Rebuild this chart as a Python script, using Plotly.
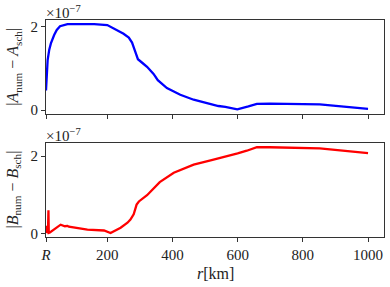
import plotly.graph_objects as go
from plotly.subplots import make_subplots

R_KM = 12

# |A_num - A_sch| in units of 1e-7
r_A = [12, 14, 17, 22, 27, 37, 45, 55, 65, 78, 128, 160, 200, 230, 250, 266, 276, 285, 294,
       308, 322, 342, 355, 383, 424, 465, 506, 541, 562, 599, 633, 659, 699, 760, 852, 893, 1000]
A_diff = [0.47, 0.85, 1.2, 1.45, 1.6, 1.8, 1.92, 2.01, 2.04, 2.06, 2.06, 2.06, 2.04, 1.92, 1.83,
          1.74, 1.62, 1.42, 1.22, 1.13, 1.04, 0.87, 0.72, 0.53, 0.37, 0.25, 0.16, 0.10, 0.08,
          0.02, 0.09, 0.15, 0.155, 0.15, 0.14, 0.11, 0.03]

# |B_num - B_sch| in units of 1e-7
r_B = [12, 13, 15, 18, 19.5, 20.5, 24, 30, 45, 57, 70, 78, 82, 139, 190, 210, 241, 262, 271,
       281, 290, 297, 322, 348, 361, 404, 465, 520, 557, 600, 628, 659, 699, 852, 1000]
B_diff = [0.02, 0.2, 0.02, 0.05, 0.6, 0.02, 0.03, 0.07, 0.17, 0.23, 0.19, 0.2, 0.18, 0.10, 0.08,
          0.015, 0.15, 0.28, 0.36, 0.5, 0.75, 0.83, 0.99, 1.2, 1.33, 1.57, 1.78, 1.9, 1.97, 2.07,
          2.14, 2.23, 2.23, 2.2, 2.08]

x_tickvals = [R_KM, 200, 400, 600, 800, 1000]
x_ticktext = ["<i>R</i>", "200", "400", "600", "800", "1000"]
y_tickvals = [0, 2]

FONT = "Liberation Serif, DejaVu Serif, serif"

fig = make_subplots(rows=2, cols=1, shared_xaxes=True, vertical_spacing=0.132)
fig.add_trace(go.Scatter(x=r_A, y=A_diff, mode="lines",
                         line=dict(color="#0000ff", width=2.3)), row=1, col=1)
fig.add_trace(go.Scatter(x=r_B, y=B_diff, mode="lines",
                         line=dict(color="#ff0000", width=2.3)), row=2, col=1)

axis_common = dict(showline=True, linecolor="#333333", linewidth=1, mirror=True,
                   ticks="outside", ticklen=4, tickcolor="#333333", showgrid=False,
                   zeroline=False, tickfont=dict(family=FONT, size=15, color="#222"))
fig.update_xaxes(range=[R_KM, 1049], tickvals=x_tickvals, ticktext=x_ticktext, **axis_common)
fig.update_xaxes(showticklabels=False, row=1, col=1)
fig.update_yaxes(tickvals=y_tickvals, **axis_common)
fig.update_yaxes(range=[-0.096, 2.16], row=1, col=1)
fig.update_yaxes(range=[-0.088, 2.344], row=2, col=1)

fig.update_layout(
    width=390, height=287,
    margin=dict(l=45.5, r=5.7, t=20, b=50.3),
    paper_bgcolor="white", plot_bgcolor="white",
    showlegend=False,
    font=dict(family=FONT, size=15, color="#222"),
)

ann_font = dict(family=FONT, size=15, color="#222")
# offset text
fig.add_annotation(text="×10<sup>−7</sup>", xref="x domain", yref="y domain", x=0, y=1,
                   xanchor="left", yanchor="bottom", showarrow=False, font=ann_font, xshift=-2, yshift=-3)
fig.add_annotation(text="×10<sup>−7</sup>", xref="x2 domain", yref="y2 domain", x=0, y=1,
                   xanchor="left", yanchor="bottom", showarrow=False, font=ann_font, xshift=-2, yshift=-3)
# y titles
fig.add_annotation(text="|<i>A</i><sub>num</sub> − <i>A</i><sub>sch</sub>|", xref="paper", yref="y domain",
                   x=-0.096, y=0.5, xanchor="center", yanchor="middle", textangle=-90,
                   showarrow=False, font=dict(family=FONT, size=16, color="#222"))
fig.add_annotation(text="|<i>B</i><sub>num</sub> − <i>B</i><sub>sch</sub>|", xref="paper", yref="y2 domain",
                   x=-0.096, y=0.5, xanchor="center", yanchor="middle", textangle=-90,
                   showarrow=False, font=dict(family=FONT, size=16, color="#222"))
# x title
fig.add_annotation(text="<i>r</i>[km]", xref="paper", yref="paper", x=0.5, y=0,
                   xanchor="center", yanchor="middle", yshift=-36, showarrow=False,
                   font=dict(family=FONT, size=16, color="#222"))

fig.write_html("out.html", config={"displayModeBar": False},
               post_script="document.body.style.margin='0';document.body.style.overflow='hidden';")
